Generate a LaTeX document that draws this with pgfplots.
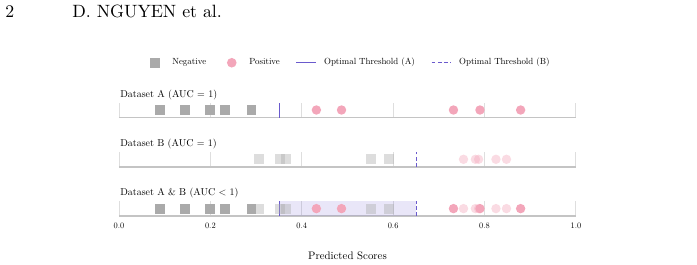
\documentclass[border=0pt]{standalone}
\usepackage{fontspec}
\setmainfont{lmroman10-regular.otf}[BoldFont=lmroman10-bold.otf, ItalicFont=lmroman10-italic.otf]
\usepackage{pgfplots}
\usepackage{pgfplotstable}
\pgfplotsset{compat=1.18}
\definecolor{negc}{RGB}{170,170,170}
\definecolor{posc}{RGB}{243,166,186}
\definecolor{thr}{RGB}{106,90,205}
\definecolor{gridc}{RGB}{222,222,222}
\definecolor{spine}{RGB}{196,196,196}

\pgfplotstableread{
x y
0.090 0
0.145 0
0.200 0
0.233 0
0.290 0
}\Aneg
\pgfplotstableread{
x y
0.432 0
0.487 0
0.732 0
0.790 0
0.879 0
}\Apos
\pgfplotstableread{
x y
0.307 0
0.352 0
0.365 0
0.551 0
0.591 0
}\Bneg
\pgfplotstableread{
x y
0.754 0
0.780 0
0.787 0
0.825 0
0.848 0
}\Bpos

\pgfplotsset{
  panel/.style={scale only axis, width=256.7pt, height=8.43pt,
    xmin=0, xmax=1, ymin=-1, ymax=1,
    axis y line=none, axis x line*=bottom,
    x axis line style={spine, line width=0.8pt},
    xtick={0,0.2,0.4,0.6,0.8,1.0}, xticklabels={},
    xmajorgrids, grid style={gridc, line width=0.5pt},
    major tick length=0, clip=false, anchor=south west},
  negA/.style={only marks, color=negc, mark=square*, mark size=2.8pt, mark options={solid, draw opacity=0, fill=negc}},
  posA/.style={only marks, color=posc, mark=*, mark size=2.65pt, mark options={solid, draw opacity=0, fill=posc}},
  negB/.style={only marks, color=negc, mark=square*, mark size=2.8pt, mark options={solid, draw opacity=0, fill=negc, fill opacity=0.4}},
  posB/.style={only marks, color=posc, mark=*, mark size=2.65pt, mark options={solid, draw opacity=0, fill=posc, fill opacity=0.4}},
  thrA/.style={draw=thr, color=thr, line width=0.65pt, no marks},
  thrB/.style={draw=thr, color=thr, line width=0.65pt, dash pattern=on 2.2pt off 1.3pt, no marks},
}
\newcommand{\tfont}{\fontsize{5.6}{6.7}\selectfont}

\begin{document}
\begin{tikzpicture}
\path[use as bounding box] (0,0) rectangle (391.57pt,-148.32pt);
\node[anchor=base west, inner sep=0pt, font=\fontsize{10}{12}\selectfont] at (2.8pt,-9.94pt) {2};
\node[anchor=base west, inner sep=0pt, font=\fontsize{10}{12}\selectfont] at (40.45pt,-9.94pt) {D. NGUYEN et al.};

% Panel A
\begin{axis}[panel, at={(66.85pt,-66.01pt)},
  legend columns=4,
  legend style={draw=none, fill=none, at={(0.5,3.65)}, anchor=center,
    font=\fontsize{5}{6}\selectfont, inner sep=0pt, nodes={inner sep=0pt},
    /tikz/every odd column/.append style={column sep=4.5pt},
    /tikz/every even column/.append style={column sep=9pt}},
  legend cell align=left]
\addlegendimage{legend image code/.code={\path[draw=none, fill=none] (0pt,-2.8pt) rectangle (10.7pt,2.8pt); \fill[negc, draw=none] (2.55pt,-2.8pt) rectangle (8.15pt,2.8pt);}}
\addlegendentry{Negative}
\addlegendimage{legend image code/.code={\path[draw=none, fill=none] (0pt,-2.8pt) rectangle (10.7pt,2.8pt); \fill[posc, draw=none] (5.35pt,0pt) circle (2.7pt);}}
\addlegendentry{Positive}
\addlegendimage{legend image code/.code={\path[draw=none, fill=none] (0pt,-2.8pt) rectangle (10.7pt,2.8pt); \draw[thr, line width=0.65pt] (0pt,0pt) -- (10.7pt,0pt);}}
\addlegendentry{Optimal Threshold (A)}
\addlegendimage{legend image code/.code={\path[draw=none, fill=none] (0pt,-2.8pt) rectangle (10.7pt,2.8pt); \draw[thr, line width=0.65pt, dash pattern=on 2.2pt off 1.3pt] (0pt,0pt) -- (10.7pt,0pt);}}
\addlegendentry{Optimal Threshold (B)}
\addplot[negA, forget plot] table[x=x, y=y] {\Aneg};
\addplot[posA, forget plot] table[x=x, y=y] {\Apos};
\addplot[thrA, forget plot] coordinates {(0.351,-1) (0.351,1)};
\end{axis}
\node[anchor=base west, inner sep=0pt, font=\tfont] at (67.4pt,-54.5pt) {Dataset A (AUC = 1)};

% Panel B
\begin{axis}[panel, at={(66.85pt,-93.71pt)}]
\addplot[negB] table[x=x, y=y] {\Bneg};
\addplot[posB] table[x=x, y=y] {\Bpos};
\addplot[thrB] coordinates {(0.651,-1) (0.651,1)};
\end{axis}
\node[anchor=base west, inner sep=0pt, font=\tfont] at (67.4pt,-82.4pt) {Dataset B (AUC = 1)};

% Panel A & B
\begin{axis}[panel, at={(66.85pt,-121.41pt)},
  xticklabels={0.0,0.2,0.4,0.6,0.8,1.0},
  /pgf/number format/assume math mode=true,
  xticklabel style={font=\fontsize{4.7}{5.6}\selectfont, yshift=-0.4pt}]
\addplot[draw=none, fill=thr, fill opacity=0.15] coordinates {(0.351,-1) (0.351,1) (0.651,1) (0.651,-1)} -- cycle;
\addplot[negB] table[x=x, y=y] {\Bneg};
\addplot[posB] table[x=x, y=y] {\Bpos};
\addplot[negA] table[x=x, y=y] {\Aneg};
\addplot[posA] table[x=x, y=y] {\Apos};
\addplot[thrA] coordinates {(0.351,-1) (0.351,1)};
\addplot[thrB] coordinates {(0.651,-1) (0.651,1)};
\end{axis}
\node[anchor=base west, inner sep=0pt, font=\tfont] at (67.4pt,-110.05pt) {Dataset A \& B (AUC < 1)};
\node[anchor=base, inner sep=0pt, font=\fontsize{6.1}{7.3}\selectfont] at (195.2pt,-145.6pt) {Predicted Scores};
\end{tikzpicture}
\end{document}
